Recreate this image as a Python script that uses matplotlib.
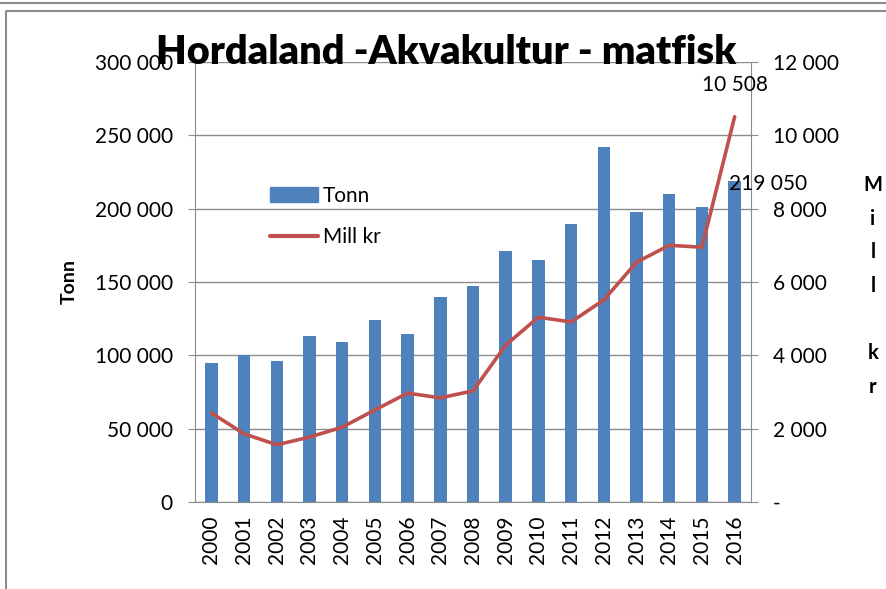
import matplotlib
matplotlib.use("Agg")
import matplotlib.pyplot as plt
from matplotlib.lines import Line2D
from matplotlib.patches import Rectangle
from matplotlib.ticker import FuncFormatter

plt.rcParams['font.family'] = ['Lato', 'DejaVu Sans']

years = [str(y) for y in range(2000, 2017)]
tonn = [95000, 100500, 96000, 113000, 109000, 124000, 114500, 140000, 147000,
        171000, 165000, 189500, 242000, 198000, 210000, 201000, 219050]
mill_kr = [2430, 1860, 1560, 1770, 2040, 2510, 2970, 2840, 3030,
           4280, 5040, 4910, 5510, 6540, 7000, 6950, 10508]

bar_color = '#4F81BD'
line_color = '#C0504D'
grid_color = '#8C8C8C'

def thousands(v, pos):
    return f"{int(v):,}".replace(",", " ")

def thousands_dash(v, pos):
    if v == 0:
        return "-"
    return f"{int(v):,}".replace(",", " ")

fig = plt.figure(figsize=(8.86, 5.89), dpi=100)
ax = fig.add_axes([195/886, 1-502/589, (751-195)/886, (502-62)/589])
ax2 = ax.twinx()

x = list(range(len(years)))
bars = ax.bar(x, tonn, width=0.38, color=bar_color, zorder=2, label='Tonn')
line, = ax2.plot(x, mill_kr, color=line_color, lw=2.6, solid_capstyle='round',
                 zorder=3, label='Mill kr')

ax.set_xlim(-0.5, len(years) - 0.5)
ax.set_ylim(0, 300000)
ax.set_yticks(range(0, 300001, 50000))
ax.yaxis.set_major_formatter(FuncFormatter(thousands))
ax2.set_ylim(0, 12000)
ax2.set_yticks(range(0, 12001, 2000))
ax2.yaxis.set_major_formatter(FuncFormatter(thousands_dash))

ax.yaxis.grid(True, color=grid_color, lw=1)
ax.set_axisbelow(True)
ax.set_xticks(x)
ax.set_xticklabels(years, rotation=90, fontsize=15)
ax.tick_params(axis='x', length=0, pad=10)
ax.tick_params(axis='y', labelsize=15, length=5, color=grid_color, pad=11)
ax2.tick_params(axis='y', labelsize=15, length=5, color=grid_color, pad=11)

for a in (ax, ax2):
    a.spines['top'].set_visible(False)
    for s in ('left', 'right', 'bottom'):
        a.spines[s].set_color(grid_color)
ax.spines['right'].set_visible(False)
ax2.spines['left'].set_visible(False)
ax2.spines['bottom'].set_visible(False)

ax.set_ylabel('Tonn', fontsize=14, fontweight='bold', labelpad=12)

fig.text(446/886, 1-52/589, 'Hordaland -Akvakultur - matfisk', ha='center', va='center',
         fontsize=28.5, fontweight='heavy')
fig.text(873/886, 1-286/589, 'M\ni\nl\nl\n\nk\nr', ha='center', va='center',
         fontsize=14.5, fontweight='bold', linespacing=1.85)

ax2.annotate(thousands(mill_kr[-1], None), (x[-1], mill_kr[-1]), xytext=(0, 23),
             textcoords='offset points', ha='center', va='center', fontsize=15)
# bar label drawn on the twin axes so it sits above the line
ax2.annotate(thousands(tonn[-1], None), (x[-1], tonn[-1]), xycoords=ax.transData,
             xytext=(-4, -2), textcoords='offset points', ha='left', va='center',
             fontsize=15, zorder=5)

handles = [Rectangle((0, 0), 1, 1, color=bar_color),
           Line2D([0], [0], color=line_color, lw=3, solid_capstyle='round')]
fig.legend(handles, ['Tonn', 'Mill kr'], loc='upper left',
           bbox_to_anchor=(270/886, 1-186/589), frameon=False, fontsize=15,
           handlelength=2.3, handletextpad=0.25, labelspacing=1.0,
           borderpad=0, borderaxespad=0)

# outer chart frame
fig.add_artist(Line2D([0, 1], [1-3/589, 1-3/589], color=grid_color, lw=1.5))
fig.add_artist(Line2D([6/886, 6/886, 1], [0, 1-11/589, 1-11/589], color=grid_color, lw=1.5))

fig.savefig('out.png', dpi=100)
